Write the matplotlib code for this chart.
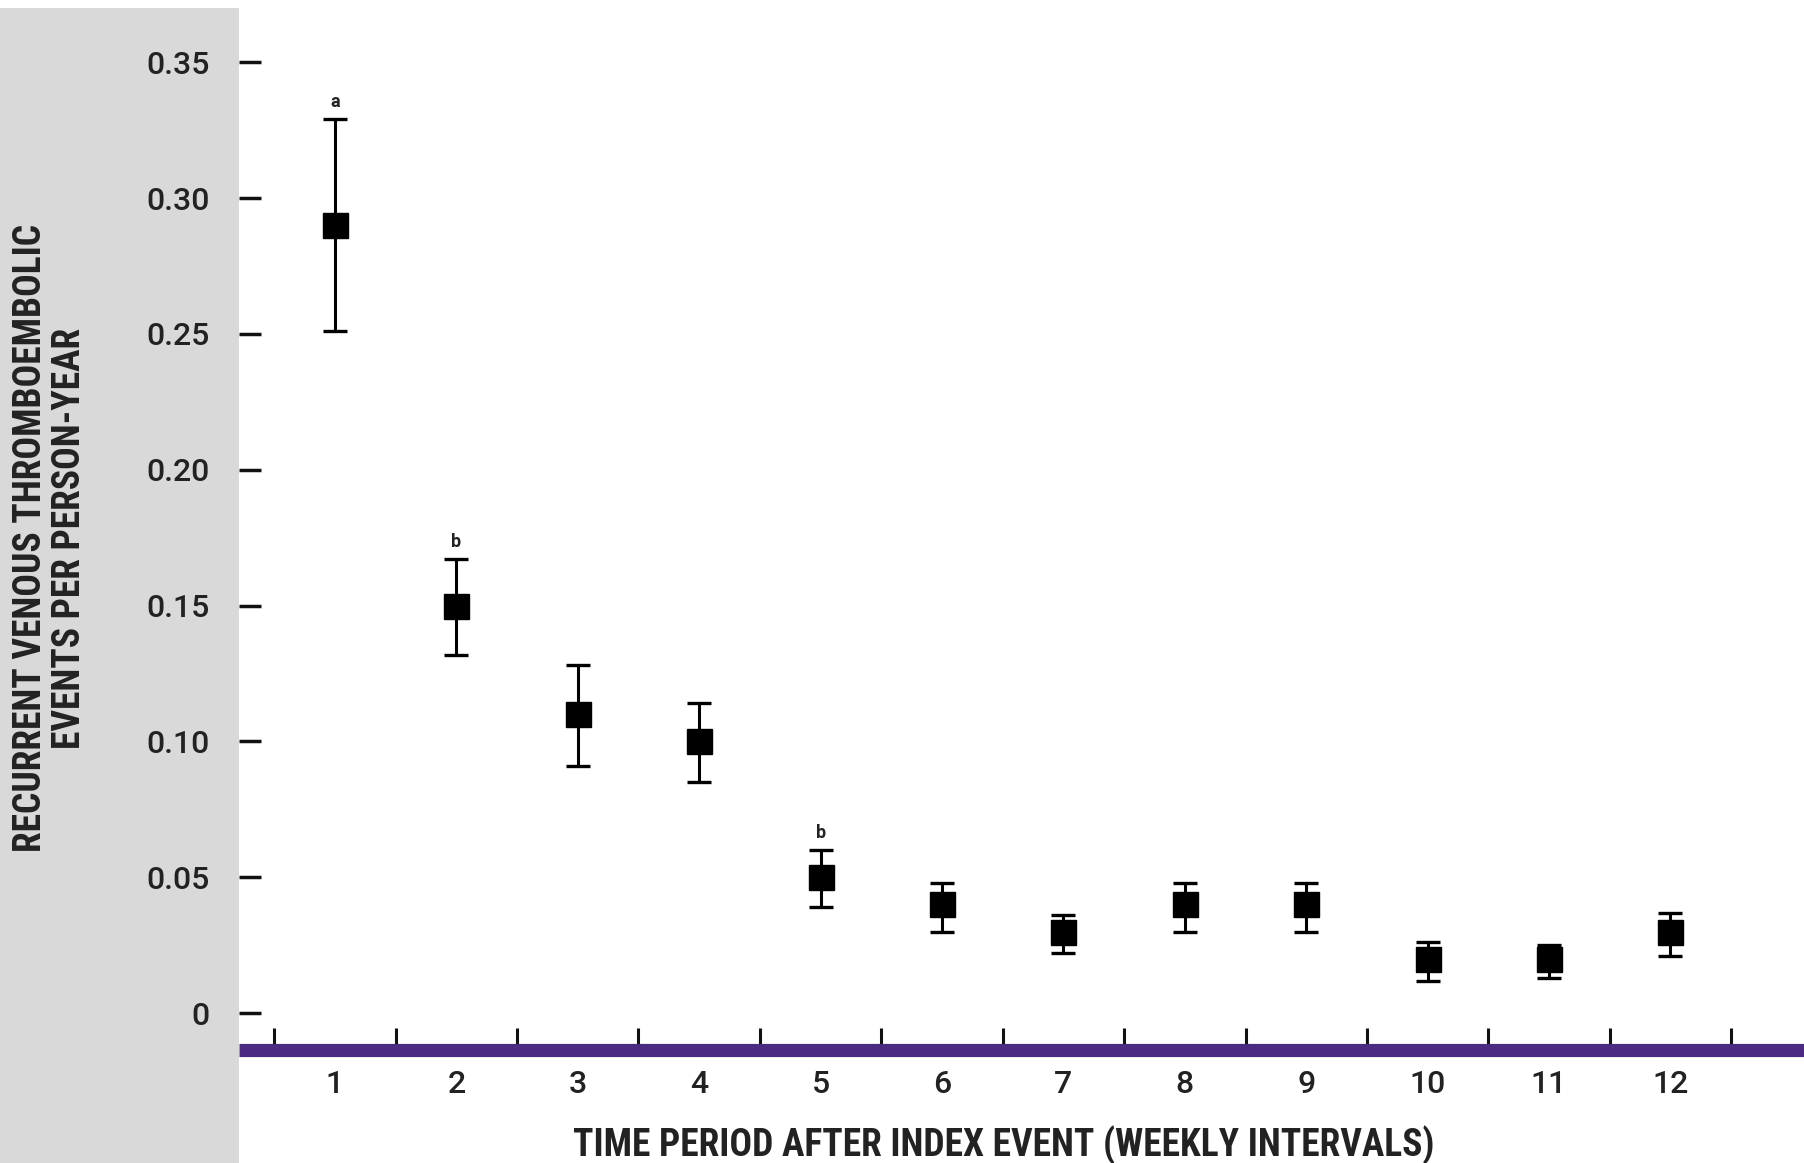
import numpy as np
import matplotlib
matplotlib.use("Agg")
import matplotlib.pyplot as plt
from matplotlib.patches import Rectangle

plt.rcParams['font.family'] = ['Roboto Condensed', 'Liberation Sans', 'DejaVu Sans']
tick_font = ['Roboto', 'Liberation Sans', 'DejaVu Sans']

weeks = np.arange(1, 13)
rate = [0.29, 0.15, 0.11, 0.10, 0.05, 0.04, 0.03, 0.04, 0.04, 0.02, 0.02, 0.03]
upper = [0.329, 0.167, 0.128, 0.114, 0.060, 0.048, 0.036, 0.048, 0.048, 0.026, 0.025, 0.037]
lower = [0.251, 0.132, 0.091, 0.085, 0.039, 0.030, 0.022, 0.030, 0.030, 0.012, 0.013, 0.021]
notes = {1: "a", 2: "b", 5: "b"}
yticks = [0, 0.05, 0.10, 0.15, 0.20, 0.25, 0.30, 0.35]
ytick_labels = ["0", "0.05", "0.10", "0.15", "0.20", "0.25", "0.30", "0.35"]

rate = np.array(rate)
yerr = [rate - np.array(lower), np.array(upper) - rate]

fig = plt.figure(figsize=(18.04, 11.63), dpi=100)
# grey band behind the y axis
fig.patches.append(Rectangle((0, 0), 239 / 1804, 1 - 8 / 1163, transform=fig.transFigure,
                             facecolor='#d9d9d9', edgecolor='none', zorder=-10))

ax = fig.add_axes([239 / 1804, 1 - 1049.5 / 1163, 1 - 239 / 1804, (1049.5 - 8) / 1163])
ax.patch.set_alpha(0)

ax.errorbar(weeks, rate, yerr=yerr, fmt='s', color='black', markersize=18,
            elinewidth=2.2, capsize=8.5, capthick=2.4, zorder=3)

for wk, letter in notes.items():
    ax.annotate(letter, (wk, upper[wk - 1]), xytext=(0, 6), textcoords='offset points',
                ha='center', va='bottom', fontsize=13, fontweight='bold', color='#222222',
                family=tick_font)

ax.set_xlim(0.21, 13.1)
ax.set_ylim(-0.0134, 0.370)

for side in ['top', 'right', 'left']:
    ax.spines[side].set_visible(False)
ax.spines['bottom'].set_color('#4b2a82')
ax.spines['bottom'].set_linewidth(9.5)
ax.spines['bottom'].set_capstyle('butt')

ax.set_yticks(yticks)
ax.set_yticklabels(ytick_labels, family=tick_font, fontweight='medium')
ax.tick_params(axis='y', direction='in', length=16, width=2.5, pad=21,
               labelsize=23, labelcolor='#222222', color='#111111')

ax.set_xticks(weeks)
ax.set_xticklabels([str(w) for w in weeks], family=tick_font, fontweight='medium')
ax.set_xticks(np.arange(0.5, 13, 1), minor=True)
ax.tick_params(axis='x', which='major', length=0, pad=15, labelsize=23, labelcolor='#222222')
ax.tick_params(axis='x', which='minor', direction='in', length=15.5, width=2.2, color='#111111')

fig.text(1004 / 1804, 18 / 1163, "TIME PERIOD AFTER INDEX EVENT (WEEKLY INTERVALS)",
         ha='center', va='center', fontsize=27, fontweight='bold', color='#222222')
fig.text(50 / 1804, 1 - 538 / 1163, "RECURRENT VENOUS THROMBOEMBOLIC\nEVENTS PER PERSON-YEAR",
         ha='center', va='center', rotation=90, fontsize=27, fontweight='bold',
         color='#222222', linespacing=1.1, multialignment='center')

fig.savefig("out.png", dpi=100)
